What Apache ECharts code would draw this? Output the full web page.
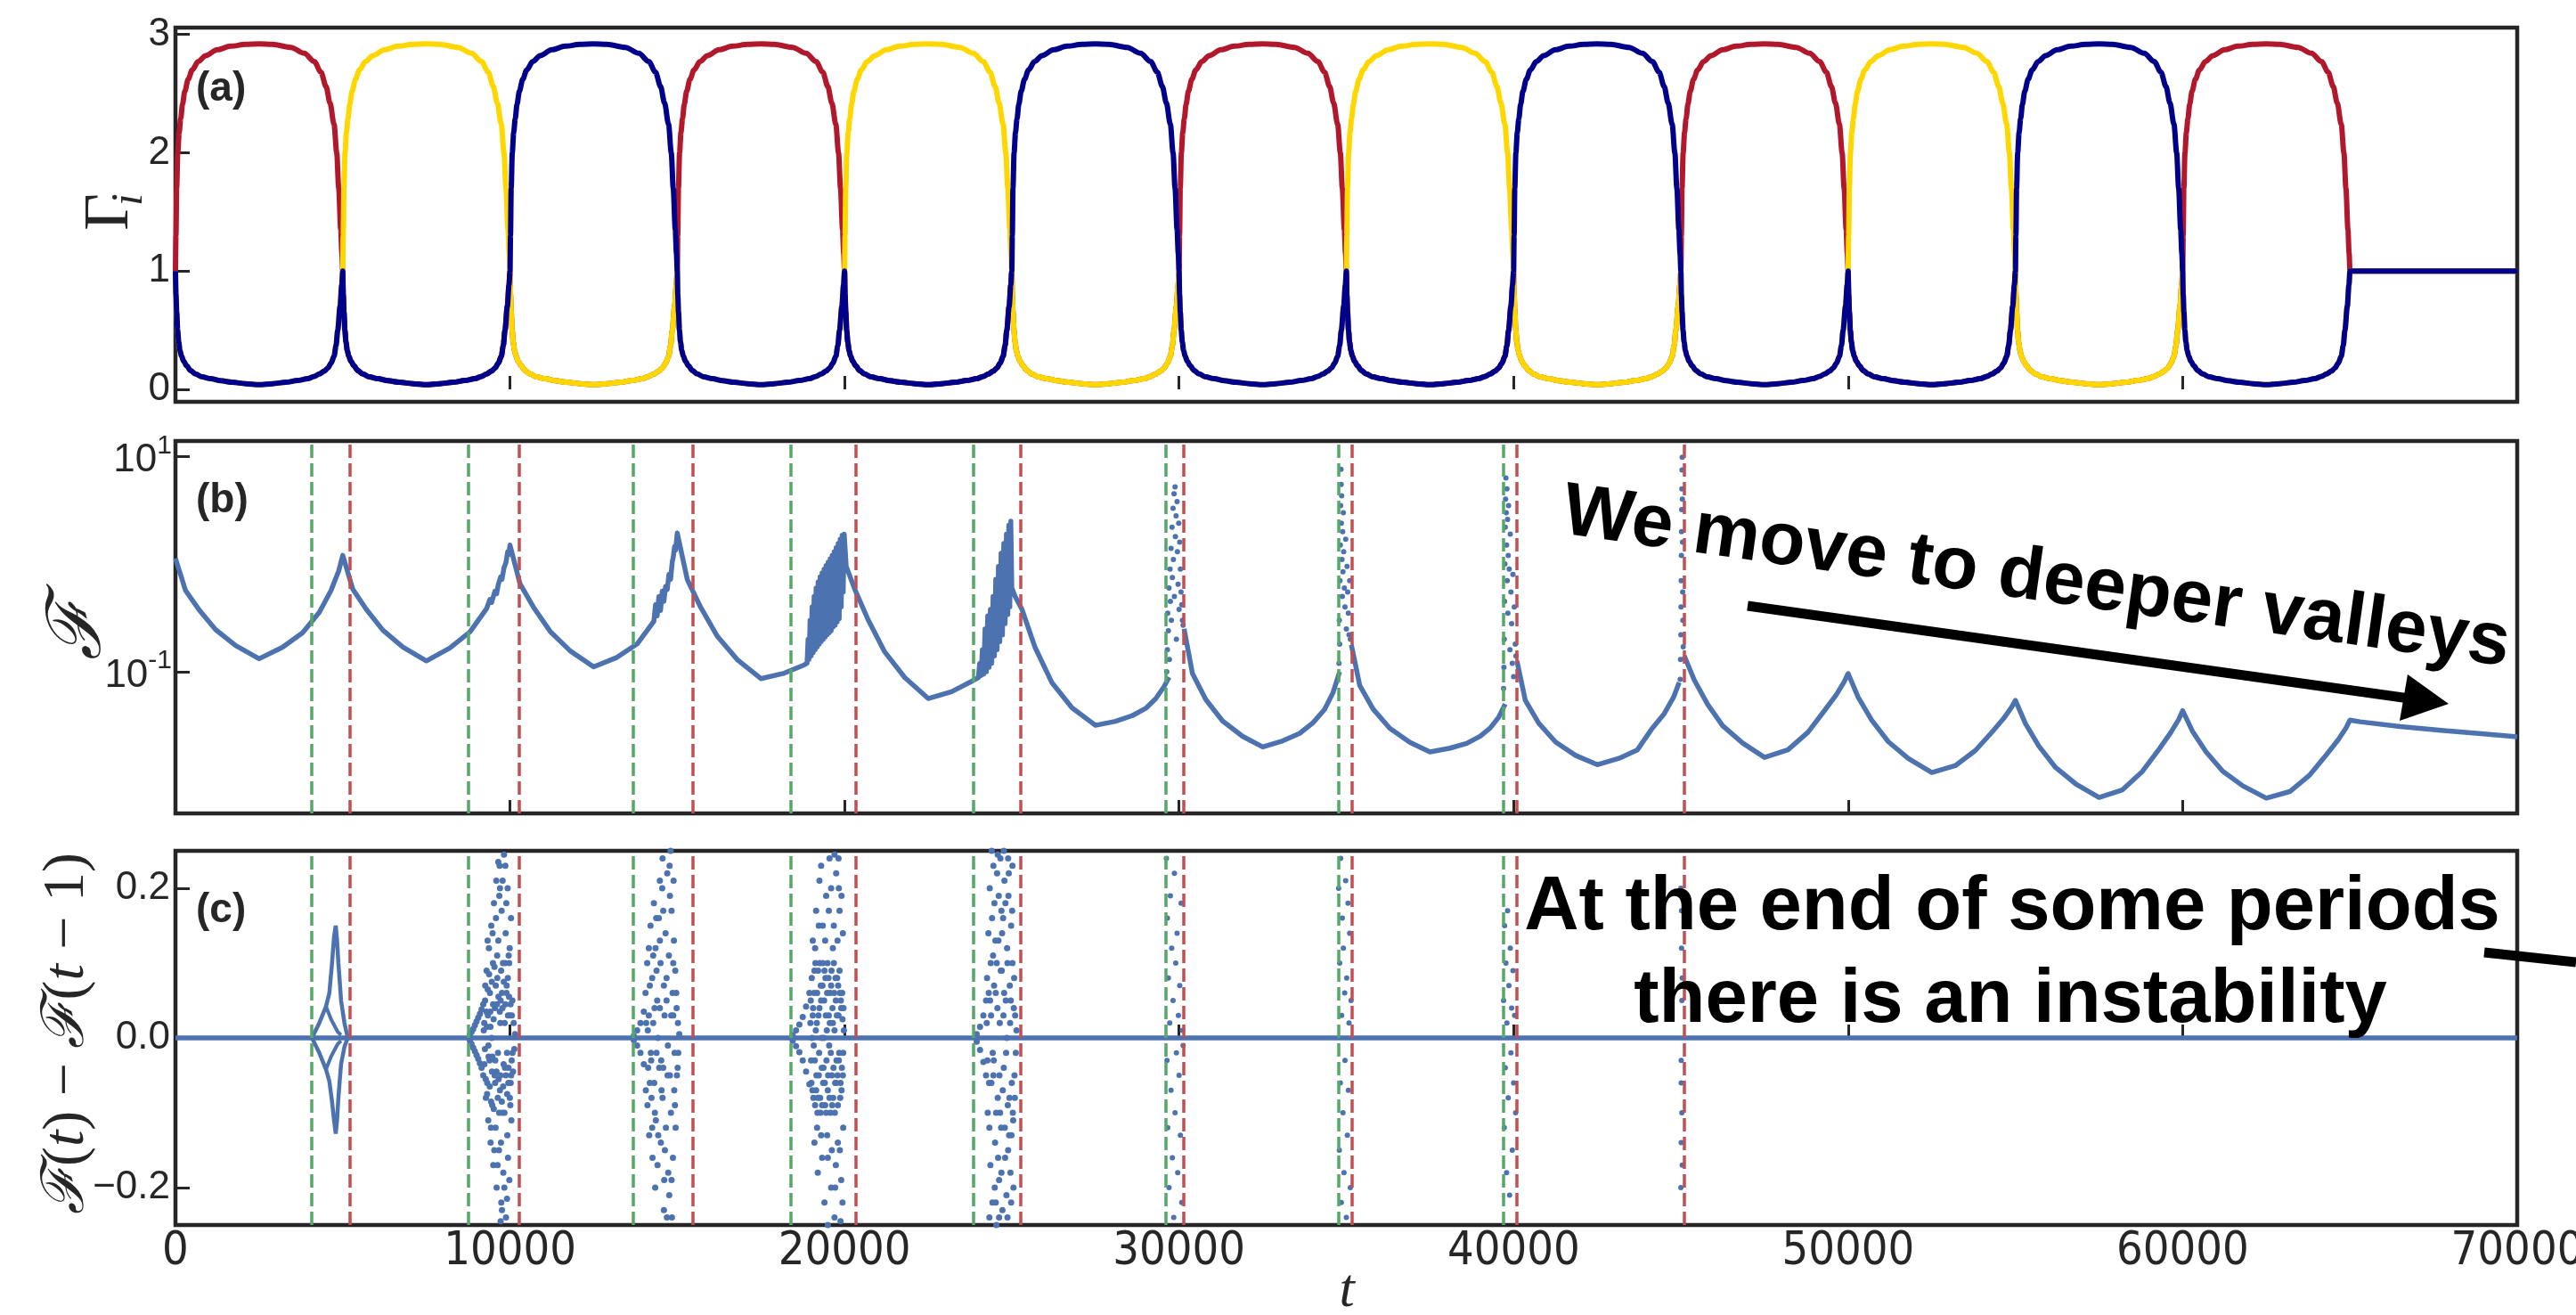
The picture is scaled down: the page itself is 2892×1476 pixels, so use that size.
<!DOCTYPE html>
<html>
<head>
<meta charset="utf-8">
<script src="https://cdn.jsdelivr.net/npm/echarts@6.0.0/dist/echarts.min.js"></script>
<style>
  html, body { margin: 0; padding: 0; background: #fff; }
  #chart { width: 2892px; height: 1476px; }
</style>
</head>
<body>
<div id="chart"></div>
<script>
// time axis
const tMin = 0
const tMax = 70000
const tStep = 10000

// (a) Gamma_i : which curve is on top in each period
const periodStart = [0, 5000, 10000, 15000, 20000, 25000, 30000, 35000, 40000, 45000, 50000, 55000, 60000]
const periodLeader = ['red', 'yellow', 'navy', 'red', 'yellow', 'navy', 'red', 'yellow', 'navy', 'red', 'yellow', 'navy', 'red']
// shape of a "high" period and of a "low" period (offset inside the period, value)
const highOffset = [0, 15, 35, 68, 110, 157, 210, 280, 380, 500, 680, 900, 1250, 1650, 2100, 2500, 2900, 3450, 3850, 4150, 4350, 4500, 4620, 4740, 4820, 4880, 4940, 4975, 5000]
const highValue = [1.0, 1.3, 1.7, 2.0, 2.17, 2.29, 2.41, 2.52, 2.62, 2.7, 2.77, 2.82, 2.87, 2.9, 2.915, 2.92, 2.915, 2.89, 2.84, 2.77, 2.68, 2.56, 2.42, 2.24, 2.0, 1.7, 1.35, 1.15, 1.0]
const lowOffset = [0, 15, 37, 65, 96, 135, 180, 250, 333, 450, 600, 800, 1050, 1350, 1700, 2100, 2500, 2900, 3300, 3650, 3950, 4150, 4300, 4450, 4550, 4650, 4740, 4800, 4850, 4920, 4970, 5000]
const lowValue = [1.0, 0.8, 0.65, 0.5, 0.40, 0.33, 0.28, 0.235, 0.2, 0.16, 0.13, 0.105, 0.09, 0.073, 0.06, 0.048, 0.04, 0.048, 0.06, 0.075, 0.09, 0.11, 0.13, 0.155, 0.18, 0.22, 0.28, 0.37, 0.5, 0.7, 0.88, 1.0]
// after the last period all three stay at 1
const restT = [65000, 70000]
const restV = [1, 1]

// (b) F(t) on a log axis ('-' breaks the line at the unstable ends)
const fCurve = [
  [0, 1.13], [300, 0.569], [700, 0.378], [1200, 0.246], [1800, 0.175], [2500, 0.132], [3200, 0.169], [3800, 0.23], [4300, 0.357], [4650, 0.569], [4880, 0.865], [5000, 1.205],
  [5300, 0.585], [5700, 0.381], [6200, 0.243], [6800, 0.169], [7500, 0.126], [8200, 0.166], [8800, 0.234], [9300, 0.385], [9400, 0.47], [9450, 0.44], [9550, 0.56], [9600, 0.53], [9650, 0.647], [9720, 0.76], [9760, 0.72], [9820, 0.92], [9880, 1.04], [9930, 1.3], [9960, 1.22], [10000, 1.5],
  [10300, 0.653], [10700, 0.398], [11200, 0.237], [11800, 0.156], [12500, 0.111], [13200, 0.136], [13800, 0.181], [14300, 0.294], [14350, 0.42], [14400, 0.33], [14450, 0.5], [14500, 0.37], [14550, 0.56], [14600, 0.45], [14650, 0.62], [14700, 0.58], [14750, 0.8], [14800, 0.72], [14850, 1.05], [14880, 1.16], [14920, 1.45], [14950, 1.35], [15000, 1.94],
  [15300, 0.716], [15700, 0.396], [16200, 0.213], [16800, 0.129], [17500, 0.0863], [18200, 0.097], [18800, 0.116], [18880, 0.12], [18910, 0.2], [18940, 0.13], [18970, 0.3], [19000, 0.14], [19030, 0.4], [19060, 0.15], [19090, 0.5], [19120, 0.16], [19150, 0.6], [19180, 0.17], [19210, 0.68], [19240, 0.18], [19270, 0.76], [19300, 0.19], [19330, 0.83], [19360, 0.2], [19390, 0.9], [19420, 0.21], [19450, 0.97], [19480, 0.22], [19510, 1.04], [19540, 0.23], [19570, 1.12], [19600, 0.24], [19630, 1.2], [19660, 0.26], [19690, 1.3], [19720, 0.27], [19750, 1.42], [19780, 0.29], [19810, 1.55], [19840, 0.31], [19870, 1.7], [19900, 0.4], [19930, 1.85], [19960, 0.55], [19990, 1.9],
  [20050, 0.95], [20300, 0.589], [20700, 0.306], [21200, 0.153], [21800, 0.0883], [22500, 0.0564], [23200, 0.0653], [23800, 0.0815], [24000, 0.088], [24040, 0.12], [24080, 0.092], [24120, 0.16], [24160, 0.095], [24200, 0.25], [24240, 0.1], [24280, 0.33], [24320, 0.11], [24360, 0.38], [24400, 0.12], [24440, 0.5], [24480, 0.14], [24520, 0.72], [24560, 0.16], [24600, 0.95], [24640, 0.19], [24680, 1.26], [24720, 0.22], [24760, 1.55], [24800, 0.28], [24840, 1.9], [24880, 0.34], [24910, 2.3], [24940, 0.4], [24970, 2.5], [25000, 0.6],
  [25100, 0.5], [25300, 0.381], [25700, 0.167], [26200, 0.079], [26800, 0.0462], [27500, 0.0318], [28100, 0.0346], [28600, 0.0391], [29000, 0.0456], [29300, 0.0561], [29550, 0.0726], [29700, 0.0891], [29900, '-'],
  [30150, 0.251], [30400, 0.096], [30800, 0.0551], [31300, 0.0349], [31900, 0.0251], [32500, 0.02], [33100, 0.0228], [33600, 0.0267], [34000, 0.0335], [34350, 0.0447], [34600, 0.0637], [34800, 0.1], [34950, '-'],
  [35150, 0.178], [35400, 0.0745], [35800, 0.045], [36300, 0.0298], [36900, 0.0221], [37500, 0.018], [38100, 0.0195], [38600, 0.0216], [39000, 0.0252], [39300, 0.03], [39550, 0.0376], [39750, 0.0501], [39900, '-'],
  [40100, 0.126], [40350, 0.0542], [40750, 0.0333], [41250, 0.0223], [41850, 0.0167], [42500, 0.0137], [43150, 0.0157], [43700, 0.0188], [44150, 0.03], [44500, 0.0407], [44780, 0.0578], [44950, 0.0794], [45030, '-'],
  [45100, 0.141], [45400, 0.0838], [45800, 0.0497], [46250, 0.0315], [46850, 0.0217], [47500, 0.016], [48200, 0.0188], [48800, 0.0274], [49300, 0.0438], [49650, 0.0614], [49880, 0.0804], [50000, 0.0962],
  [50300, 0.058], [50700, 0.0356], [51200, 0.0224], [51800, 0.0156], [52500, 0.0116], [53200, 0.0134], [53800, 0.0185], [54300, 0.0275], [54650, 0.0369], [54880, 0.0465], [55000, 0.0542],
  [55300, 0.033], [55700, 0.0204], [56200, 0.0129], [56800, 0.0091], [57500, 0.0068], [58200, 0.008], [58800, 0.0119], [59300, 0.0192], [59650, 0.0274], [59880, 0.036], [60000, 0.0435],
  [60300, 0.0277], [60700, 0.018], [61200, 0.0119], [61800, 0.0087], [62500, 0.0067], [63200, 0.0077], [63800, 0.011], [64300, 0.017], [64650, 0.0234], [64880, 0.03], [65000, 0.0355],
  [65300, 0.0343], [66500, 0.0309], [67800, 0.0284], [69000, 0.0264], [70000, 0.0249]
]
// scattered values at the big jumps near 30000, 35000, 40000, 45000
const fJumpDots = [
  [29630, 0.1], [29650, 0.16], [29660, 0.35], [29680, 0.24], [29700, 0.6], [29710, 0.13], [29730, 0.9], [29740, 0.45], [29760, 1.4], [29770, 0.3], [29790, 2.2], [29800, 0.75], [29820, 3.3], [29830, 1.1], [29850, 4.5], [29860, 0.5], [29880, 5.2], [29890, 1.8], [29910, 2.8], [29920, 0.2], [29940, 3.8], [29950, 1.3], [29970, 0.65], [29990, 2.4], [30000, 0.38], [30020, 1.6], [30040, 0.9], [30060, 0.55], [30080, 0.42], [30100, 0.3], [30120, 0.27],
  [34780, 0.12], [34790, 0.3], [34800, 0.18], [34810, 0.7], [34820, 1.5], [34830, 3.5], [34840, 7.6], [34845, 5.5], [34850, 2.4], [34860, 4.3], [34870, 1.1], [34880, 0.5], [34890, 2.0], [34900, 0.85], [34910, 3.0], [34920, 1.3], [34940, 0.6], [34960, 0.4], [34980, 1.7], [35000, 0.25], [35020, 0.95], [35040, 0.55], [35060, 0.35], [35080, 0.22], [35100, 0.7], [35120, 0.2],
  [39700, 0.07], [39710, 0.11], [39720, 0.2], [39730, 0.45], [39740, 1.0], [39750, 2.2], [39760, 4.0], [39770, 6.3], [39780, 3.0], [39790, 1.5], [39800, 5.0], [39810, 0.7], [39820, 2.6], [39830, 0.35], [39840, 1.2], [39850, 3.5], [39870, 0.9], [39890, 0.16], [39900, 1.9], [39920, 0.55], [39940, 0.28], [39960, 0.12], [39980, 0.8], [40000, 0.09], [40020, 0.4], [40050, 0.18], [40070, 0.14],
  [44980, 0.085], [44990, 0.13], [45000, 0.22], [45005, 0.4], [45010, 0.7], [45015, 1.2], [45020, 2.0], [45025, 3.2], [45030, 5.0], [45035, 7.5], [45040, 9.8], [45045, 4.0], [45050, 1.6], [45055, 0.55], [45060, 0.3], [45070, 0.17]
]

// (c) F(t) - F(t-1)
const diffBase = [[0, 0], [70000, 0]]
const diffStarUpper = [[4080, 0], [4300, 0.02], [4500, 0.042], [4600, 0.06], [4680, 0.1], [4740, 0.135], [4790, 0.15], [4830, 0.13], [4870, 0.1], [4905, 0.079], [4950, 0.05], [5050, 0.02], [5150, 0]]
const diffStarLower = [[4080, 0], [4300, -0.02], [4500, -0.042], [4600, -0.058], [4680, -0.085], [4740, -0.11], [4790, -0.128], [4830, -0.11], [4870, -0.08], [4905, -0.06], [4950, -0.035], [5050, -0.012], [5150, 0]]
const diffStarInnerUp = [[4500, 0.042], [4650, 0.025], [4850, 0.008], [4950, 0.004]]
const diffStarInnerDown = [[4500, -0.042], [4650, -0.025], [4850, -0.008], [4950, -0.004]]
const diffDotsNear10k = [
  [8800, 0.004], [8850, 0.008], [8900, 0.012], [8950, 0.017], [9000, 0.022], [9050, 0.027], [9100, 0.032], [9150, 0.038],
  [8800, -0.004], [8850, -0.008], [8900, -0.013], [8950, -0.018], [9000, -0.023], [9050, -0.028], [9100, -0.034], [9150, -0.04],
  [9200, 0.045], [9200, -0.05], [9230, 0.02], [9250, -0.015], [9260, 0.07], [9280, -0.08], [9300, 0.09], [9320, -0.06], [9340, 0.03], [9350, -0.11], [9370, 0.12], [9390, -0.03], [9400, 0.06], [9420, -0.14], [9440, 0.15], [9450, 0.0], [9470, -0.09], [9490, 0.1], [9500, -0.17], [9520, 0.18], [9540, -0.05], [9550, 0.04], [9570, -0.12], [9590, 0.21], [9600, -0.2], [9620, 0.08], [9640, -0.02], [9650, 0.13], [9670, -0.15], [9690, 0.23], [9700, -0.07], [9720, 0.05], [9740, -0.22], [9750, 0.17], [9770, -0.1], [9790, 0.1], [9800, -0.18], [9820, 0.245], [9840, 0.02], [9850, -0.04], [9870, 0.14], [9880, -0.24], [9900, 0.07], [9920, -0.13], [9930, 0.2], [9950, -0.06], [9960, 0.11], [9980, -0.19], [10000, 0.03], [10010, -0.09], [10030, 0.16], [10050, -0.03], [10070, 0.05], [10090, -0.045], [10110, 0.02], [10130, -0.015], [10150, 0.005],
  [9310, 0.015], [9360, -0.025], [9410, 0.035], [9460, -0.045], [9510, 0.025], [9560, -0.03], [9610, 0.045], [9660, -0.055], [9710, 0.02], [9760, 0.06], [9810, -0.035], [9860, 0.045], [9910, -0.02], [9940, 0.03], [9970, 0.055], [10020, -0.06],
  [9215, 0.01], [9235, -0.035], [9255, 0.05], [9275, -0.055], [9295, 0.035], [9315, -0.075], [9335, 0.065], [9355, -0.01], [9375, 0.085], [9395, -0.065], [9415, 0.015], [9435, -0.085], [9455, 0.075], [9475, -0.025], [9495, 0.045], [9515, -0.095], [9535, 0.095], [9555, -0.06], [9575, 0.07], [9595, -0.045], [9615, 0.11], [9635, -0.08], [9655, 0.055], [9675, -0.1], [9695, 0.035], [9715, -0.05], [9735, 0.09], [9755, -0.085], [9775, 0.04], [9795, -0.065], [9815, 0.075], [9835, -0.1], [9855, 0.1], [9875, -0.05], [9895, 0.06], [9915, -0.075], [9935, 0.08], [9955, -0.04], [9975, 0.1], [9995, -0.08], [10015, 0.045], [10035, -0.05], [10055, 0.03], [10075, -0.02],
  [9330, 0.13], [9430, -0.12], [9480, 0.14], [9530, -0.15], [9580, 0.16], [9630, -0.17], [9680, 0.19], [9730, -0.14], [9780, 0.21], [9830, -0.2], [9890, 0.18], [9940, -0.16], [9990, 0.12], [10040, -0.11], [9650, 0.235], [9720, -0.245], [9860, 0.23], [9760, -0.23], [9910, -0.215], [9700, 0.2]
]
const diffDotsNear15k = [
  [13700, 0.003], [13700, -0.003], [13800, 0.01], [13800, -0.01], [13900, 0.02], [13900, -0.02], [14000, 0.035], [14000, -0.035],
  [14050, 0.06], [14060, -0.07], [14100, 0.1], [14110, -0.09], [14150, 0.03], [14160, -0.13], [14200, 0.15], [14210, -0.02], [14250, 0.08], [14260, -0.16], [14300, 0.18], [14310, -0.06], [14350, 0.12], [14360, -0.11], [14400, 0.05], [14410, -0.17], [14450, 0.16], [14460, -0.04], [14500, 0.1], [14510, -0.14], [14550, 0.2], [14560, -0.08], [14600, 0.07], [14610, -0.19], [14650, 0.14], [14660, -0.12], [14700, 0.22], [14710, -0.05], [14750, 0.11], [14760, -0.21], [14800, 0.25], [14810, -0.1], [14830, 0.17], [14840, -0.24], [14860, 0.06], [14870, -0.16], [14900, 0.13], [14910, -0.07], [14940, 0.09], [14950, -0.12], [14980, 0.04], [14990, -0.05], [15020, 0.02], [15030, -0.02], [15060, 0.005],
  [14120, 0.01], [14220, -0.03], [14320, 0.04], [14420, 0.0], [14520, -0.03], [14620, 0.03], [14720, -0.01], [14820, 0.03], [14920, -0.02],
  [14070, 0.02], [14130, -0.04], [14180, 0.07], [14230, -0.08], [14280, 0.11], [14330, -0.1], [14380, 0.09], [14430, -0.13], [14480, 0.13], [14530, -0.07], [14580, 0.17], [14630, -0.15], [14680, 0.08], [14730, -0.18], [14780, 0.19], [14830, -0.19], [14880, 0.1], [14930, -0.09], [14970, 0.06], [15010, -0.04], [14340, -0.2], [14560, 0.24], [14690, -0.24], [14770, 0.23], [14890, 0.21], [14600, -0.23], [14480, 0.21], [14370, 0.16], [14250, -0.12], [14150, 0.12], [14180, -0.06], [14280, 0.02], [14380, -0.02], [14480, 0.04], [14580, -0.04], [14680, 0.05], [14780, -0.05], [14880, 0.03]
]
const diffDotsNear20k = [
  [18450, 0.004], [18450, -0.004], [18550, 0.01], [18550, -0.011], [18650, 0.018], [18650, -0.019], [18750, 0.028], [18750, -0.03], [18850, 0.042], [18850, -0.045], [18950, 0.06], [18950, -0.062],
  [18980, 0.02], [19000, -0.03], [19020, 0.08], [19040, -0.07], [19060, 0.04], [19080, -0.01], [19100, 0.09], [19120, -0.09], [19140, 0.01], [19160, -0.05], [19180, 0.06], [19200, -0.08], [19220, 0.03], [19240, -0.02], [19260, 0.1], [19280, -0.1], [19300, 0.05], [19320, -0.04], [19340, 0.07], [19360, -0.06], [19380, 0.0], [19400, 0.09], [19420, -0.09], [19440, 0.03], [19460, -0.03], [19480, 0.06], [19500, -0.07], [19520, 0.08], [19540, -0.01], [19560, 0.02], [19580, -0.1], [19600, 0.07], [19620, -0.05], [19640, 0.04], [19660, -0.08], [19680, 0.1], [19700, 0.01], [19720, -0.06], [19740, 0.05], [19760, -0.03], [19780, 0.08], [19800, -0.09], [19820, 0.03], [19840, -0.02], [19860, 0.06], [19880, -0.06], [19900, 0.04], [19920, -0.04], [19940, 0.025], [19960, -0.02], [19980, 0.01],
  [18990, 0.05], [19010, -0.06], [19030, 0.0], [19050, 0.03], [19070, -0.08], [19090, 0.06], [19110, -0.03], [19130, 0.1], [19150, -0.07], [19170, 0.02], [19190, -0.1], [19210, 0.09], [19230, -0.05], [19250, 0.04], [19270, -0.08], [19290, 0.07], [19310, 0.0], [19330, -0.09], [19350, 0.1], [19370, -0.04], [19390, 0.05], [19410, -0.06], [19430, 0.08], [19450, -0.1], [19470, 0.01], [19490, 0.1], [19510, -0.05], [19530, 0.03], [19550, -0.08], [19570, 0.06], [19590, -0.02], [19610, 0.09], [19630, -0.09], [19650, 0.02], [19670, -0.04], [19690, 0.06], [19710, -0.1], [19730, 0.08], [19750, -0.06], [19770, 0.03], [19790, -0.05], [19810, 0.07], [19830, -0.03], [19850, 0.09], [19870, -0.08], [19890, 0.05], [19910, -0.07], [19930, 0.06], [19950, -0.05], [19970, 0.04],
  [19050, 0.13], [19100, -0.14], [19150, 0.17], [19200, -0.18], [19250, 0.21], [19300, -0.13], [19350, 0.15], [19400, -0.22], [19450, 0.19], [19500, -0.16], [19550, 0.24], [19600, -0.2], [19650, 0.12], [19700, -0.24], [19750, 0.22], [19800, -0.14], [19850, 0.17], [19900, -0.19], [19950, 0.14], [19700, 0.245], [19880, -0.245], [19300, 0.23], [19500, -0.25], [19830, 0.2], [19960, -0.12],
  [19120, 0.12], [19180, -0.12], [19230, 0.15], [19330, -0.16], [19420, 0.13], [19480, -0.13], [19530, 0.17], [19620, -0.15], [19680, 0.15], [19740, -0.17], [19790, 0.13], [19860, -0.15], [19910, 0.19], [19600, 0.2], [19720, -0.2], [19820, 0.24], [19940, -0.22]
]
const diffDotsNear25k = [
  [23950, 0.005], [23950, -0.005], [24050, 0.015], [24050, -0.016], [24150, 0.03], [24150, -0.032], [24230, 0.05], [24230, -0.05],
  [24260, 0.08], [24280, -0.1], [24300, 0.14], [24320, -0.06], [24340, 0.2], [24360, -0.17], [24380, 0.03], [24400, 0.25], [24420, -0.22], [24440, 0.11], [24460, -0.03], [24480, 0.18], [24500, -0.14], [24520, 0.06], [24540, -0.25], [24560, 0.22], [24580, -0.08], [24600, 0.13], [24620, -0.19], [24640, 0.02], [24660, 0.24], [24680, -0.12], [24700, 0.09], [24720, -0.23], [24740, 0.16], [24760, -0.04], [24780, 0.21], [24800, -0.16], [24820, 0.05], [24840, -0.21], [24860, 0.12], [24880, -0.09], [24900, 0.19], [24920, -0.13], [24940, 0.07], [24960, -0.18], [24980, 0.15], [25000, -0.06], [25020, 0.1], [25040, -0.11], [25060, 0.04], [25080, -0.05], [25100, 0.03], [25120, -0.02], [25140, 0.01],
  [24350, 0.05], [24450, -0.05], [24550, 0.1], [24650, -0.1], [24750, 0.03], [24850, 0.0], [24950, 0.02], [24330, -0.24], [24580, 0.245], [24870, -0.24], [24690, 0.17], [25020, 0.23], [25050, -0.2],
  [24250, 0.02], [24270, -0.03], [24310, 0.06], [24330, -0.12], [24370, 0.1], [24390, -0.06], [24410, 0.16], [24430, -0.02], [24470, 0.07], [24490, -0.2], [24510, 0.13], [24530, -0.1], [24570, 0.04], [24590, -0.16], [24610, 0.19], [24630, -0.05], [24670, 0.09], [24690, -0.18], [24710, 0.14], [24730, -0.07], [24770, 0.06], [24790, -0.12], [24810, 0.18], [24830, -0.02], [24870, 0.1], [24890, -0.15], [24910, 0.22], [24930, -0.08], [24970, 0.05], [24990, -0.13], [25010, 0.17], [25030, -0.1], [25070, 0.08], [25090, -0.08], [24450, 0.23], [24620, -0.24], [24760, 0.25], [24890, 0.24], [24520, -0.22], [24980, -0.22]
]
const diffDotsLate = [
  [29620, 0.24], [29640, -0.03], [29650, 0.16], [29660, -0.12], [29680, 0.08], [29700, -0.2], [29720, 0.02], [29740, 0.19], [29760, -0.07], [29780, 0.12], [29800, -0.16], [29820, 0.05], [29840, -0.24], [29860, 0.22], [29880, -0.1], [29900, 0.1], [29920, -0.02], [29940, 0.14], [29960, -0.18], [29980, 0.03], [30000, -0.05], [30020, 0.07], [30040, -0.13], [30060, 0.18], [30080, -0.22], [30100, 0.01], [30120, -0.01],
  [34770, 0.2], [34790, -0.15], [34800, 0.1], [34820, -0.06], [34830, 0.24], [34850, -0.22], [34860, 0.03], [34880, 0.16], [34900, -0.1], [34910, 0.12], [34930, -0.18], [34950, 0.06], [34960, -0.03], [34980, 0.21], [35000, -0.24], [35010, 0.08], [35030, -0.13], [35050, 0.18], [35060, -0.07], [35080, 0.02], [35100, 0.14], [35120, -0.2], [35140, 0.05],
  [39700, 0.05], [39720, -0.12], [39730, 0.15], [39750, -0.04], [39770, 0.1], [39790, -0.18], [39800, 0.02], [39820, 0.17], [39840, -0.08], [39860, 0.07], [39880, -0.21], [39900, 0.12], [39920, -0.02], [39940, 0.04], [39960, -0.15], [39980, 0.09], [40000, -0.06], [40030, 0.03], [40060, -0.1],
  [45000, 0.2], [45010, -0.06], [45020, 0.12], [45010, -0.14], [45030, 0.05], [45000, -0.2], [45020, 0.17], [45030, -0.1], [45040, 0.08], [45010, -0.03], [45040, -0.17]
]

// dashed markers
const greenLines = [4080, 8750, 13680, 18380, 23860, 29610, 34770, 39700]
const redLines = [5200, 10270, 15470, 20330, 25260, 30140, 35170, 40080, 45090]

// tick labels
const gammaTicks = [0, 1, 2, 3]
const fTicks = [0.1, 10]
const diffTicks = [-0.2, 0, 0.2]

const colors = {
  red: '#b2182b',
  yellow: '#ffd700',
  navy: '#00008b',
  blue: '#4c72b0',
  green: '#55a868',
  dashRed: '#c44e52',
  ink: '#262626'
}
const sans = "'Liberation Sans', Arial, sans-serif"
const narrow = "'Liberation Sans Narrow', 'Arial Narrow', 'DejaVu Sans Condensed', sans-serif"
const serif = "'Liberation Serif', 'DejaVu Serif', serif"

function gammaData (name) {
  const pts = []
  periodStart.forEach((start, k) => {
    const isHigh = periodLeader[k] === name
    const offs = isHigh ? highOffset : lowOffset
    const vals = isHigh ? highValue : lowValue
    offs.forEach((dt, i) => {
      if (k > 0 && i === 0) return
      pts.push([start + dt, vals[i]])
    })
  })
  restT.forEach((t, i) => pts.push([t, restV[i]]))
  return pts
}

function dashedLines () {
  return {
    silent: true,
    animation: false,
    symbol: ['none', 'none'],
    label: { show: false },
    lineStyle: { type: [15, 6], width: 3.5 },
    data: greenLines.map(t => ({ xAxis: t, lineStyle: { color: colors.green } }))
      .concat(redLines.map(t => ({ xAxis: t, lineStyle: { color: colors.dashRed } })))
  }
}

const gridBase = {
  left: 197,
  width: 2629,
  show: true,
  borderColor: colors.ink,
  borderWidth: 4.5,
  backgroundColor: 'transparent',
  containLabel: false,
  outerBoundsMode: 'none'
}

function xAxisFor (idx, showLabels) {
  return {
    type: 'value',
    gridIndex: idx,
    min: tMin,
    max: tMax,
    interval: tStep,
    axisLine: { show: false },
    splitLine: { show: false },
    axisTick: { show: true, inside: true, length: 15, lineStyle: { color: colors.ink, width: 3 } },
    axisLabel: {
      show: showLabels,
      margin: 4,
      fontFamily: narrow,
      fontSize: 52,
      color: colors.ink,
      showMinLabel: true,
      showMaxLabel: true,
      hideOverlap: false,
      formatter: v => String(v)
    }
  }
}

const yTick = { show: true, inside: true, length: 16, lineStyle: { color: colors.ink, width: 3 } }
const dotStyle = { color: colors.blue, opacity: 1 }

const chart = echarts.init(document.getElementById('chart'), null, { renderer: 'canvas' })

chart.setOption({
  animation: false,
  backgroundColor: '#ffffff',
  grid: [
    Object.assign({}, gridBase, { top: 31, height: 420 }),
    Object.assign({}, gridBase, { top: 495, height: 418 }),
    Object.assign({}, gridBase, { top: 955, height: 420 })
  ],
  xAxis: [xAxisFor(0, false), xAxisFor(1, false), xAxisFor(2, true)],
  yAxis: [
    {
      type: 'value',
      gridIndex: 0,
      min: -0.105,
      max: 3.057,
      axisLine: { show: false },
      splitLine: { show: false },
      axisTick: Object.assign({ customValues: gammaTicks }, yTick),
      axisLabel: { customValues: gammaTicks, margin: 6, fontFamily: sans, fontSize: 44, color: colors.ink }
    },
    {
      type: 'log',
      logBase: 10,
      gridIndex: 1,
      min: 0.00483,
      max: 13.9,
      axisLine: { show: false },
      splitLine: { show: false },
      minorTick: { show: false },
      axisTick: Object.assign({ customValues: fTicks }, yTick),
      axisLabel: {
        customValues: fTicks,
        margin: 4,
        formatter: v => '{b|10}{s|' + Math.round(Math.log10(v)) + '}',
        rich: {
          b: { fontFamily: sans, fontSize: 44, color: colors.ink, verticalAlign: 'bottom' },
          s: { fontFamily: sans, fontSize: 30, color: colors.ink, verticalAlign: 'bottom', padding: [0, 0, 24, 0] }
        }
      }
    },
    {
      type: 'value',
      gridIndex: 2,
      min: -0.25,
      max: 0.25,
      axisLine: { show: false },
      splitLine: { show: false },
      axisTick: Object.assign({ customValues: diffTicks }, yTick),
      axisLabel: {
        customValues: diffTicks,
        margin: 6,
        fontFamily: sans,
        fontSize: 44,
        color: colors.ink,
        formatter: v => (v < 0 ? '\u2212' : '') + Math.abs(v).toFixed(1)
      }
    }
  ],
  series: [
    // (a)
    { type: 'line', xAxisIndex: 0, yAxisIndex: 0, data: gammaData('red'), showSymbol: false, symbol: 'none', smooth: 0.3, smoothMonotone: 'x', lineStyle: { color: colors.red, width: 6 }, z: 2 },
    { type: 'line', xAxisIndex: 0, yAxisIndex: 0, data: gammaData('yellow'), showSymbol: false, symbol: 'none', smooth: 0.3, smoothMonotone: 'x', lineStyle: { color: colors.yellow, width: 6 }, z: 3 },
    { type: 'line', xAxisIndex: 0, yAxisIndex: 0, data: gammaData('navy'), showSymbol: false, symbol: 'none', smooth: 0.3, smoothMonotone: 'x', lineStyle: { color: colors.navy, width: 6 }, z: 4 },
    // (b)
    { type: 'line', xAxisIndex: 1, yAxisIndex: 1, data: fCurve, showSymbol: false, symbol: 'none', connectNulls: false, lineStyle: { color: colors.blue, width: 5.5, join: 'round' }, markLine: dashedLines(), z: 2 },
    { type: 'scatter', xAxisIndex: 1, yAxisIndex: 1, data: fJumpDots, symbolSize: 6, itemStyle: dotStyle, z: 3 },
    // (c)
    { type: 'line', xAxisIndex: 2, yAxisIndex: 2, data: diffBase, showSymbol: false, symbol: 'none', lineStyle: { color: colors.blue, width: 5.5 }, markLine: dashedLines(), z: 2 },
    { type: 'line', xAxisIndex: 2, yAxisIndex: 2, data: diffStarUpper, showSymbol: false, symbol: 'none', lineStyle: { color: colors.blue, width: 4.5 }, z: 3 },
    { type: 'line', xAxisIndex: 2, yAxisIndex: 2, data: diffStarLower, showSymbol: false, symbol: 'none', lineStyle: { color: colors.blue, width: 4.5 }, z: 3 },
    { type: 'line', xAxisIndex: 2, yAxisIndex: 2, data: diffStarInnerUp, showSymbol: false, symbol: 'none', lineStyle: { color: colors.blue, width: 4 }, z: 3 },
    { type: 'line', xAxisIndex: 2, yAxisIndex: 2, data: diffStarInnerDown, showSymbol: false, symbol: 'none', lineStyle: { color: colors.blue, width: 4 }, z: 3 },
    { type: 'scatter', xAxisIndex: 2, yAxisIndex: 2, data: diffDotsNear10k, symbolSize: 7, itemStyle: dotStyle, z: 3 },
    { type: 'scatter', xAxisIndex: 2, yAxisIndex: 2, data: diffDotsNear15k, symbolSize: 7, itemStyle: dotStyle, z: 3 },
    { type: 'scatter', xAxisIndex: 2, yAxisIndex: 2, data: diffDotsNear20k, symbolSize: 7, itemStyle: dotStyle, z: 3 },
    { type: 'scatter', xAxisIndex: 2, yAxisIndex: 2, data: diffDotsNear25k, symbolSize: 7, itemStyle: dotStyle, z: 3 },
    { type: 'scatter', xAxisIndex: 2, yAxisIndex: 2, data: diffDotsLate, symbolSize: 6, itemStyle: dotStyle, z: 3 }
  ],
  graphic: [
    // panel tags
    { type: 'text', x: 220, y: 100, z: 50, style: { text: '(a)', fontFamily: sans, fontWeight: 'bold', fontSize: 46, fill: colors.ink, align: 'left', verticalAlign: 'middle' } },
    { type: 'text', x: 220, y: 562, z: 50, style: { text: '(b)', fontFamily: sans, fontWeight: 'bold', fontSize: 46, fill: colors.ink, align: 'left', verticalAlign: 'middle' } },
    { type: 'text', x: 220, y: 1022, z: 50, style: { text: '(c)', fontFamily: sans, fontWeight: 'bold', fontSize: 46, fill: colors.ink, align: 'left', verticalAlign: 'middle' } },
    // axis titles
    { type: 'text', x: 124, y: 238, rotation: Math.PI / 2, z: 50, style: { text: '\u0393', fontFamily: serif, fontSize: 72, fill: colors.ink, align: 'center', verticalAlign: 'middle' } },
    { type: 'text', x: 146, y: 224, rotation: Math.PI / 2, z: 50, style: { text: 'i', fontFamily: serif, fontStyle: 'italic', fontSize: 50, fill: colors.ink, align: 'center', verticalAlign: 'middle' } },
    { type: 'text', x: 90, y: 706, rotation: Math.PI / 2, z: 50, style: { text: '\u2131', fontFamily: serif, fontStyle: 'italic', fontSize: 84, fill: colors.ink, align: 'center', verticalAlign: 'middle' } },
    {
      type: 'text', x: 76, y: 1160, rotation: Math.PI / 2, z: 50,
      style: {
        text: '{f|\u2131}{p|(}{t|t}{p|) \u2212 }{f|\u2131}{p|(}{t|t}{p| \u2212 1)}',
        align: 'center',
        verticalAlign: 'middle',
        rich: {
          f: { fontFamily: serif, fontStyle: 'italic', fontSize: 66, fill: colors.ink },
          p: { fontFamily: serif, fontSize: 66, fill: colors.ink },
          t: { fontFamily: serif, fontStyle: 'italic', fontSize: 66, fill: colors.ink }
        }
      }
    },
    { type: 'text', x: 1512, y: 1450, z: 50, style: { text: 't', fontFamily: serif, fontStyle: 'italic', fontSize: 62, fill: colors.ink, align: 'center', verticalAlign: 'middle' } },
    // annotation (b)
    { type: 'text', x: 2286, y: 650, rotation: -8 * Math.PI / 180, z: 60, style: { text: 'We move to deeper valleys', fontFamily: sans, fontWeight: 'bold', fontSize: 84, fill: '#000', align: 'center', verticalAlign: 'middle' } },
    { type: 'line', z: 60, shape: { x1: 1962, y1: 680, x2: 2705, y2: 784 }, style: { stroke: '#000', lineWidth: 11 } },
    { type: 'polygon', z: 60, shape: { points: [[2749, 790], [2703, 757], [2694, 809]] }, style: { fill: '#000' } },
    // annotation (c)
    { type: 'text', x: 2259, y: 1020, z: 60, style: { text: 'At the end of some periods', fontFamily: sans, fontWeight: 'bold', fontSize: 85, fill: '#000', align: 'center', verticalAlign: 'middle' } },
    { type: 'text', x: 2257, y: 1124, z: 60, style: { text: 'there is an instability', fontFamily: sans, fontWeight: 'bold', fontSize: 85, fill: '#000', align: 'center', verticalAlign: 'middle' } },
    { type: 'line', z: 60, shape: { x1: 2789, y1: 1069, x2: 2892, y2: 1080 }, style: { stroke: '#000', lineWidth: 11 } }
  ]
})
</script>
</body>
</html>
